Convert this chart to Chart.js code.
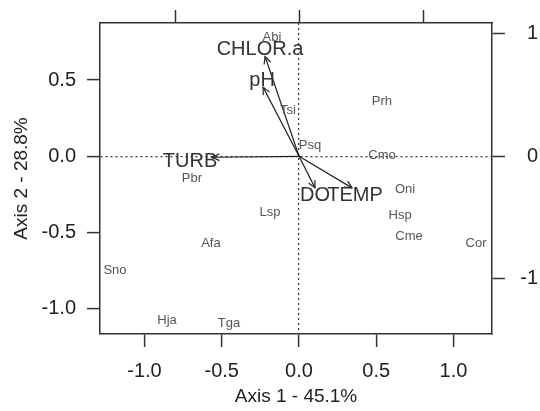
<!DOCTYPE html>
<html>
<head>
<meta charset="utf-8">
<script src="https://cdn.jsdelivr.net/npm/chart.js@4.4.0/dist/chart.umd.min.js"></script>
<style>
  html, body { margin: 0; padding: 0; background: #fff; }
  #wrap { width: 540px; height: 411px; }
</style>
</head>
<body>
<div id="wrap"><canvas id="biplot" width="540" height="411"></canvas></div>
<script>
// species scores on axis 1 / axis 2
const speciesNames = ['Abi', 'Tsi', 'Prh', 'Psq', 'Cmo', 'Pbr', 'Oni', 'Lsp', 'Hsp', 'Cme', 'Afa', 'Cor', 'Sno', 'Hja', 'Tga'];
const speciesX = [-0.175, -0.071, 0.537, 0.071, 0.537, -0.693, 0.686, -0.188, 0.654, 0.712, -0.570, 1.146, -1.191, -0.854, -0.453];
const speciesY = [0.777, 0.304, 0.362, 0.071, 0.006, -0.142, -0.214, -0.369, -0.388, -0.524, -0.570, -0.570, -0.751, -1.074, -1.094];

// environmental variables (arrows, read on the top / right axes)
const varNames = ['CHLOR.a', 'pH', 'TURB', 'DO', 'TEMP'];
const varX = [-0.274, -0.290, -0.700, 0.129, 0.427];
const varY = [0.815, 0.565, -0.008, -0.258, -0.258];
const varLabelX = [-0.315, -0.298, -0.879, 0.129, 0.452];
const varLabelY = [0.871, 0.621, -0.040, -0.323, -0.323];

const xTitle = 'Axis 1 - 45.1%';
const yTitle = 'Axis 2 - 28.8%';

const FONT = '"Liberation Sans", Arial, sans-serif';
const AXIS_COLOR = '#333';

// texte des espèces, pointes de flèches et noms des variables
const labelPlugin = {
    id: 'biplotLabels',
    afterDatasetsDraw(chart) {
        const ctx = chart.ctx;
        const sx = chart.scales.x, sy = chart.scales.y;
        const ax = chart.scales.x2, ay = chart.scales.y2;
        ctx.save();
        ctx.textAlign = 'center';
        ctx.textBaseline = 'middle';

        ctx.fillStyle = '#555';
        ctx.font = '13px ' + FONT;
        speciesNames.forEach((name, i) => {
            ctx.fillText(name, sx.getPixelForValue(speciesX[i]), sy.getPixelForValue(speciesY[i]));
        });

        ctx.strokeStyle = '#222';
        ctx.lineWidth = 1.2;
        const x0 = ax.getPixelForValue(0), y0 = ay.getPixelForValue(0);
        varNames.forEach((name, i) => {
            const x1 = ax.getPixelForValue(varX[i]);
            const y1 = ay.getPixelForValue(varY[i]);
            const a = Math.atan2(y1 - y0, x1 - x0);
            const len = 8, spread = Math.PI / 7;
            ctx.beginPath();
            ctx.moveTo(x1 - len * Math.cos(a - spread), y1 - len * Math.sin(a - spread));
            ctx.lineTo(x1, y1);
            ctx.lineTo(x1 - len * Math.cos(a + spread), y1 - len * Math.sin(a + spread));
            ctx.stroke();
        });

        ctx.fillStyle = '#333';
        ctx.font = '20px ' + FONT;
        varNames.forEach((name, i) => {
            ctx.fillText(name, ax.getPixelForValue(varLabelX[i]), ay.getPixelForValue(varLabelY[i]));
        });
        ctx.restore();
    }
};

let datasets = [{
    label: 'species',
    data: speciesX.map((x, i) => ({ x: x, y: speciesY[i] })),
    xAxisID: 'x',
    yAxisID: 'y',
    pointRadius: 0,
    showLine: false
}];
varNames.forEach((name, i) => {
    datasets.push({
        label: name,
        data: [{ x: 0, y: 0 }, { x: varX[i], y: varY[i] }],
        xAxisID: 'x2',
        yAxisID: 'y2',
        showLine: true,
        borderColor: '#222',
        borderWidth: 1.2,
        pointRadius: 0,
        fill: false
    });
});

// ligne pointillée seulement à zéro
function zeroLine(c) {
    return c.tick && c.tick.value === 0 ? '#333' : 'rgba(0,0,0,0)';
}

const tickFont = { family: FONT, size: 20 };

new Chart(document.getElementById('biplot').getContext('2d'), {
    type: 'scatter',
    data: { datasets: datasets },
    options: {
        responsive: false,
        animation: false,
        devicePixelRatio: 1,
        layout: { padding: { left: 0, right: 2, top: 0, bottom: 0 } },
        plugins: {
            legend: { display: false },
            tooltip: { enabled: false }
        },
        scales: {
            x: {
                type: 'linear',
                position: 'bottom',
                min: -1.288,
                max: 1.249,
                afterFit: function(scale) { scale.height = 77; },
                ticks: {
                    stepSize: 0.5,
                    includeBounds: false,
                    maxRotation: 0,
                    padding: 12,
                    color: '#222',
                    font: tickFont,
                    callback: function(value) { return value.toFixed(1); }
                },
                grid: {
                    color: zeroLine,
                    lineWidth: 1.2,
                    tickLength: 13,
                    tickColor: AXIS_COLOR,
                    tickWidth: 1.5
                },
                border: { color: AXIS_COLOR, width: 1.5, dash: [2, 3] },
                title: {
                    display: true,
                    text: xTitle,
                    color: '#222',
                    font: { family: FONT, size: 19 },
                    padding: { top: 0, bottom: 3 }
                }
            },
            y: {
                type: 'linear',
                position: 'left',
                min: -1.165,
                max: 0.874,
                afterFit: function(scale) { scale.width = 100; },
                ticks: {
                    stepSize: 0.5,
                    includeBounds: false,
                    padding: 11,
                    color: '#222',
                    font: tickFont,
                    callback: function(value) { return value.toFixed(1); }
                },
                grid: {
                    color: zeroLine,
                    lineWidth: 1.2,
                    tickLength: 13,
                    tickColor: AXIS_COLOR,
                    tickWidth: 1.5
                },
                border: { color: AXIS_COLOR, width: 1.5, dash: [2, 3] },
                title: {
                    display: true,
                    text: yTitle,
                    color: '#222',
                    font: { family: FONT, size: 19 },
                    padding: { top: 10, bottom: 0 }
                }
            },
            x2: {
                type: 'linear',
                position: 'top',
                min: -1.605,
                max: 1.556,
                afterFit: function(scale) { scale.height = 19; },
                ticks: { stepSize: 1, includeBounds: false, display: false },
                grid: {
                    drawOnChartArea: false,
                    tickLength: 13,
                    tickColor: AXIS_COLOR,
                    tickWidth: 1.5
                },
                border: { color: AXIS_COLOR, width: 1.5 }
            },
            y2: {
                type: 'linear',
                position: 'right',
                min: -1.452,
                max: 1.089,
                afterFit: function(scale) { scale.width = 46; },
                ticks: {
                    stepSize: 1,
                    includeBounds: false,
                    crossAlign: 'far',
                    color: '#222',
                    font: tickFont,
                    callback: function(value) { return String(value); }
                },
                grid: {
                    drawOnChartArea: false,
                    tickLength: 13,
                    tickColor: AXIS_COLOR,
                    tickWidth: 1.5
                },
                border: { color: AXIS_COLOR, width: 1.5 }
            }
        }
    },
    plugins: [labelPlugin]
});
</script>
</body>
</html>
